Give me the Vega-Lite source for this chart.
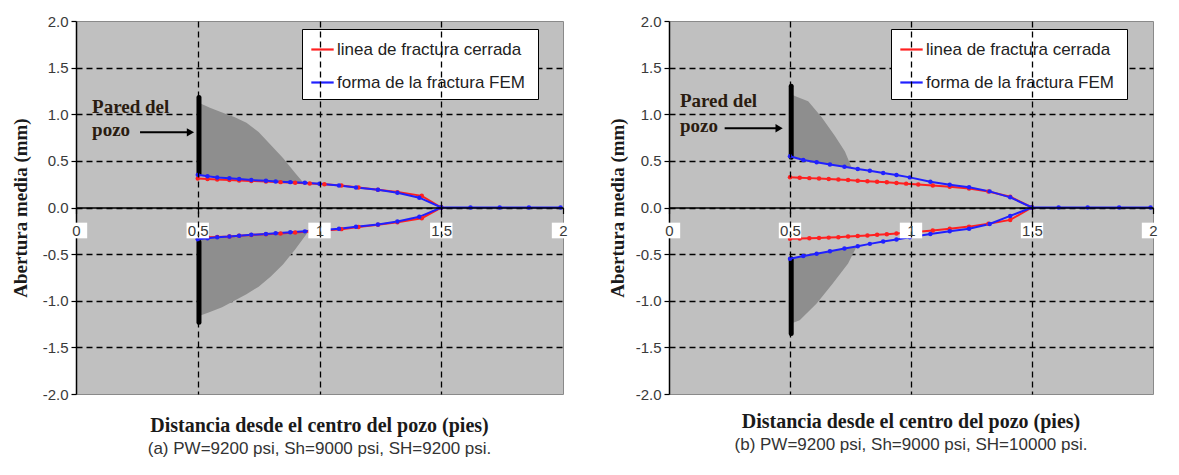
{
  "$schema": "https://vega.github.io/schema/vega-lite/v6.json",
  "background": "white",
  "padding": {"left": 10, "top": 13, "right": 4, "bottom": 4},
  "spacing": 32,
  "resolve": {"scale": {"color": "independent"}, "legend": {"color": "independent"}},
  "config": {
    "view": {"fill": "#c0c0c0", "stroke": "#8a8a8a", "strokeWidth": 1},
    "axis": {
      "labelFont": "Liberation Sans", "labelFontSize": 15, "labelColor": "#3a3a3a",
      "titleFont": "Liberation Serif", "titleFontWeight": "bold", "titleFontSize": 19, "titleColor": "#1a1a1a",
      "domainColor": "black", "domainWidth": 1.5, "tickColor": "black", "tickWidth": 1.2,
      "gridColor": "black", "gridDash": [6, 4], "gridWidth": 1.3
    },
    "title": {
      "font": "Liberation Serif", "fontSize": 20, "fontWeight": "bold", "color": "#1a1a1a",
      "subtitleFont": "Liberation Sans", "subtitleFontSize": 17, "subtitleColor": "#333333", "subtitlePadding": 5
    },
    "legend": {
      "orient": "none", "title": null, "symbolType": "stroke", "symbolSize": 500, "symbolStrokeWidth": 2.2,
      "labelFont": "Liberation Sans", "labelFontSize": 17, "labelColor": "#222222", "labelLimit": 400,
      "fillColor": "white", "strokeColor": "black", "padding": 8, "rowPadding": 12, "labelOffset": 2
    }
  },
  "datasets": {
    "a_curves": [
      {"s": "cerrada", "b": "up", "x": 0.50, "y": 0.31}, {"s": "cerrada", "b": "up", "x": 0.54, "y": 0.305}, {"s": "cerrada", "b": "up", "x": 0.58, "y": 0.30},
      {"s": "cerrada", "b": "up", "x": 0.63, "y": 0.295}, {"s": "cerrada", "b": "up", "x": 0.67, "y": 0.29}, {"s": "cerrada", "b": "up", "x": 0.72, "y": 0.285},
      {"s": "cerrada", "b": "up", "x": 0.78, "y": 0.28}, {"s": "cerrada", "b": "up", "x": 0.84, "y": 0.272}, {"s": "cerrada", "b": "up", "x": 0.90, "y": 0.265},
      {"s": "cerrada", "b": "up", "x": 0.96, "y": 0.258}, {"s": "cerrada", "b": "up", "x": 1.02, "y": 0.25}, {"s": "cerrada", "b": "up", "x": 1.09, "y": 0.235},
      {"s": "cerrada", "b": "up", "x": 1.16, "y": 0.215}, {"s": "cerrada", "b": "up", "x": 1.24, "y": 0.19}, {"s": "cerrada", "b": "up", "x": 1.32, "y": 0.165},
      {"s": "cerrada", "b": "up", "x": 1.42, "y": 0.125}, {"s": "cerrada", "b": "up", "x": 1.50, "y": 0},
      {"s": "cerrada", "b": "lo", "x": 0.50, "y": -0.325}, {"s": "cerrada", "b": "lo", "x": 0.54, "y": -0.32}, {"s": "cerrada", "b": "lo", "x": 0.58, "y": -0.315},
      {"s": "cerrada", "b": "lo", "x": 0.63, "y": -0.31}, {"s": "cerrada", "b": "lo", "x": 0.67, "y": -0.303}, {"s": "cerrada", "b": "lo", "x": 0.72, "y": -0.295},
      {"s": "cerrada", "b": "lo", "x": 0.78, "y": -0.287}, {"s": "cerrada", "b": "lo", "x": 0.84, "y": -0.278}, {"s": "cerrada", "b": "lo", "x": 0.90, "y": -0.268},
      {"s": "cerrada", "b": "lo", "x": 0.96, "y": -0.258}, {"s": "cerrada", "b": "lo", "x": 1.02, "y": -0.247}, {"s": "cerrada", "b": "lo", "x": 1.09, "y": -0.232},
      {"s": "cerrada", "b": "lo", "x": 1.16, "y": -0.21}, {"s": "cerrada", "b": "lo", "x": 1.24, "y": -0.185}, {"s": "cerrada", "b": "lo", "x": 1.32, "y": -0.158},
      {"s": "cerrada", "b": "lo", "x": 1.42, "y": -0.115}, {"s": "cerrada", "b": "lo", "x": 1.50, "y": 0},
      {"s": "fem", "b": "up", "x": 0.50, "y": 0.35}, {"s": "fem", "b": "up", "x": 0.54, "y": 0.335}, {"s": "fem", "b": "up", "x": 0.58, "y": 0.322},
      {"s": "fem", "b": "up", "x": 0.63, "y": 0.313}, {"s": "fem", "b": "up", "x": 0.67, "y": 0.305}, {"s": "fem", "b": "up", "x": 0.72, "y": 0.295},
      {"s": "fem", "b": "up", "x": 0.78, "y": 0.287}, {"s": "fem", "b": "up", "x": 0.82, "y": 0.28}, {"s": "fem", "b": "up", "x": 0.88, "y": 0.272},
      {"s": "fem", "b": "up", "x": 0.94, "y": 0.265}, {"s": "fem", "b": "up", "x": 1.00, "y": 0.254}, {"s": "fem", "b": "up", "x": 1.08, "y": 0.237},
      {"s": "fem", "b": "up", "x": 1.15, "y": 0.215}, {"s": "fem", "b": "up", "x": 1.24, "y": 0.19}, {"s": "fem", "b": "up", "x": 1.32, "y": 0.158},
      {"s": "fem", "b": "up", "x": 1.41, "y": 0.105}, {"s": "fem", "b": "up", "x": 1.50, "y": 0}, {"s": "fem", "b": "up", "x": 1.62, "y": 0},
      {"s": "fem", "b": "up", "x": 1.74, "y": 0}, {"s": "fem", "b": "up", "x": 1.86, "y": 0}, {"s": "fem", "b": "up", "x": 1.99, "y": 0},
      {"s": "fem", "b": "lo", "x": 0.50, "y": -0.34}, {"s": "fem", "b": "lo", "x": 0.54, "y": -0.33}, {"s": "fem", "b": "lo", "x": 0.58, "y": -0.32},
      {"s": "fem", "b": "lo", "x": 0.63, "y": -0.312}, {"s": "fem", "b": "lo", "x": 0.67, "y": -0.303}, {"s": "fem", "b": "lo", "x": 0.72, "y": -0.293},
      {"s": "fem", "b": "lo", "x": 0.78, "y": -0.283}, {"s": "fem", "b": "lo", "x": 0.82, "y": -0.275}, {"s": "fem", "b": "lo", "x": 0.88, "y": -0.266},
      {"s": "fem", "b": "lo", "x": 0.94, "y": -0.256}, {"s": "fem", "b": "lo", "x": 1.00, "y": -0.244}, {"s": "fem", "b": "lo", "x": 1.08, "y": -0.228},
      {"s": "fem", "b": "lo", "x": 1.15, "y": -0.207}, {"s": "fem", "b": "lo", "x": 1.24, "y": -0.182}, {"s": "fem", "b": "lo", "x": 1.32, "y": -0.15},
      {"s": "fem", "b": "lo", "x": 1.41, "y": -0.10}, {"s": "fem", "b": "lo", "x": 1.50, "y": 0}
    ],
    "b_curves": [
      {"s": "cerrada", "b": "up", "x": 0.50, "y": 0.325}, {"s": "cerrada", "b": "up", "x": 0.54, "y": 0.32}, {"s": "cerrada", "b": "up", "x": 0.58, "y": 0.315},
      {"s": "cerrada", "b": "up", "x": 0.62, "y": 0.31}, {"s": "cerrada", "b": "up", "x": 0.66, "y": 0.305}, {"s": "cerrada", "b": "up", "x": 0.70, "y": 0.30},
      {"s": "cerrada", "b": "up", "x": 0.74, "y": 0.294}, {"s": "cerrada", "b": "up", "x": 0.78, "y": 0.288}, {"s": "cerrada", "b": "up", "x": 0.82, "y": 0.282},
      {"s": "cerrada", "b": "up", "x": 0.86, "y": 0.276}, {"s": "cerrada", "b": "up", "x": 0.90, "y": 0.27}, {"s": "cerrada", "b": "up", "x": 0.94, "y": 0.263},
      {"s": "cerrada", "b": "up", "x": 0.98, "y": 0.256}, {"s": "cerrada", "b": "up", "x": 1.03, "y": 0.247}, {"s": "cerrada", "b": "up", "x": 1.09, "y": 0.236},
      {"s": "cerrada", "b": "up", "x": 1.16, "y": 0.222}, {"s": "cerrada", "b": "up", "x": 1.24, "y": 0.203}, {"s": "cerrada", "b": "up", "x": 1.32, "y": 0.172},
      {"s": "cerrada", "b": "up", "x": 1.41, "y": 0.115}, {"s": "cerrada", "b": "up", "x": 1.50, "y": 0},
      {"s": "cerrada", "b": "lo", "x": 0.50, "y": -0.335}, {"s": "cerrada", "b": "lo", "x": 0.54, "y": -0.333}, {"s": "cerrada", "b": "lo", "x": 0.58, "y": -0.33},
      {"s": "cerrada", "b": "lo", "x": 0.62, "y": -0.327}, {"s": "cerrada", "b": "lo", "x": 0.66, "y": -0.323}, {"s": "cerrada", "b": "lo", "x": 0.70, "y": -0.318},
      {"s": "cerrada", "b": "lo", "x": 0.74, "y": -0.312}, {"s": "cerrada", "b": "lo", "x": 0.78, "y": -0.306}, {"s": "cerrada", "b": "lo", "x": 0.82, "y": -0.30},
      {"s": "cerrada", "b": "lo", "x": 0.86, "y": -0.293}, {"s": "cerrada", "b": "lo", "x": 0.90, "y": -0.286}, {"s": "cerrada", "b": "lo", "x": 0.94, "y": -0.278},
      {"s": "cerrada", "b": "lo", "x": 0.98, "y": -0.27}, {"s": "cerrada", "b": "lo", "x": 1.03, "y": -0.26}, {"s": "cerrada", "b": "lo", "x": 1.09, "y": -0.247},
      {"s": "cerrada", "b": "lo", "x": 1.16, "y": -0.228}, {"s": "cerrada", "b": "lo", "x": 1.24, "y": -0.205}, {"s": "cerrada", "b": "lo", "x": 1.32, "y": -0.175},
      {"s": "cerrada", "b": "lo", "x": 1.41, "y": -0.133}, {"s": "cerrada", "b": "lo", "x": 1.50, "y": 0},
      {"s": "fem", "b": "up", "x": 0.50, "y": 0.55}, {"s": "fem", "b": "up", "x": 0.555, "y": 0.51}, {"s": "fem", "b": "up", "x": 0.61, "y": 0.485},
      {"s": "fem", "b": "up", "x": 0.665, "y": 0.46}, {"s": "fem", "b": "up", "x": 0.725, "y": 0.437}, {"s": "fem", "b": "up", "x": 0.78, "y": 0.412},
      {"s": "fem", "b": "up", "x": 0.83, "y": 0.394}, {"s": "fem", "b": "up", "x": 0.885, "y": 0.37}, {"s": "fem", "b": "up", "x": 0.94, "y": 0.348},
      {"s": "fem", "b": "up", "x": 0.995, "y": 0.323}, {"s": "fem", "b": "up", "x": 1.08, "y": 0.276}, {"s": "fem", "b": "up", "x": 1.16, "y": 0.244},
      {"s": "fem", "b": "up", "x": 1.24, "y": 0.216}, {"s": "fem", "b": "up", "x": 1.325, "y": 0.173}, {"s": "fem", "b": "up", "x": 1.41, "y": 0.109},
      {"s": "fem", "b": "up", "x": 1.50, "y": 0}, {"s": "fem", "b": "up", "x": 1.61, "y": 0}, {"s": "fem", "b": "up", "x": 1.73, "y": 0},
      {"s": "fem", "b": "up", "x": 1.86, "y": 0}, {"s": "fem", "b": "up", "x": 1.99, "y": 0},
      {"s": "fem", "b": "lo", "x": 0.50, "y": -0.55}, {"s": "fem", "b": "lo", "x": 0.555, "y": -0.52}, {"s": "fem", "b": "lo", "x": 0.61, "y": -0.495},
      {"s": "fem", "b": "lo", "x": 0.665, "y": -0.47}, {"s": "fem", "b": "lo", "x": 0.725, "y": -0.44}, {"s": "fem", "b": "lo", "x": 0.78, "y": -0.415},
      {"s": "fem", "b": "lo", "x": 0.83, "y": -0.39}, {"s": "fem", "b": "lo", "x": 0.885, "y": -0.365}, {"s": "fem", "b": "lo", "x": 0.94, "y": -0.342},
      {"s": "fem", "b": "lo", "x": 0.995, "y": -0.32}, {"s": "fem", "b": "lo", "x": 1.08, "y": -0.283}, {"s": "fem", "b": "lo", "x": 1.16, "y": -0.255},
      {"s": "fem", "b": "lo", "x": 1.24, "y": -0.228}, {"s": "fem", "b": "lo", "x": 1.325, "y": -0.177}, {"s": "fem", "b": "lo", "x": 1.41, "y": -0.09},
      {"s": "fem", "b": "lo", "x": 1.50, "y": 0}
    ],
    "a_shade": [
      {"g": "up", "x": 0.5, "lo": 0.35, "hi": 1.13}, {"g": "up", "x": 0.55, "lo": 0.333, "hi": 1.07}, {"g": "up", "x": 0.6, "lo": 0.318, "hi": 1.02},
      {"g": "up", "x": 0.65, "lo": 0.309, "hi": 0.97}, {"g": "up", "x": 0.7, "lo": 0.30, "hi": 0.91}, {"g": "up", "x": 0.75, "lo": 0.29, "hi": 0.81},
      {"g": "up", "x": 0.8, "lo": 0.284, "hi": 0.67}, {"g": "up", "x": 0.85, "lo": 0.277, "hi": 0.53}, {"g": "up", "x": 0.9, "lo": 0.27, "hi": 0.37},
      {"g": "up", "x": 0.935, "lo": 0.263, "hi": 0.263},
      {"g": "lo", "x": 0.5, "lo": -0.34, "hi": -1.17}, {"g": "lo", "x": 0.55, "lo": -0.33, "hi": -1.12}, {"g": "lo", "x": 0.6, "lo": -0.318, "hi": -1.07},
      {"g": "lo", "x": 0.65, "lo": -0.308, "hi": -1.0}, {"g": "lo", "x": 0.7, "lo": -0.298, "hi": -0.93}, {"g": "lo", "x": 0.75, "lo": -0.288, "hi": -0.85},
      {"g": "lo", "x": 0.8, "lo": -0.28, "hi": -0.74}, {"g": "lo", "x": 0.85, "lo": -0.273, "hi": -0.61}, {"g": "lo", "x": 0.9, "lo": -0.268, "hi": -0.45},
      {"g": "lo", "x": 0.955, "lo": -0.255, "hi": -0.255}
    ],
    "b_shade": [
      {"g": "up", "x": 0.5, "lo": 0.55, "hi": 1.22}, {"g": "up", "x": 0.525, "lo": 0.535, "hi": 1.19}, {"g": "up", "x": 0.575, "lo": 0.505, "hi": 1.14},
      {"g": "up", "x": 0.63, "lo": 0.48, "hi": 0.97}, {"g": "up", "x": 0.685, "lo": 0.452, "hi": 0.77}, {"g": "up", "x": 0.727, "lo": 0.436, "hi": 0.60},
      {"g": "up", "x": 0.755, "lo": 0.425, "hi": 0.425},
      {"g": "lo", "x": 0.5, "lo": -0.55, "hi": -1.25}, {"g": "lo", "x": 0.54, "lo": -0.525, "hi": -1.21}, {"g": "lo", "x": 0.61, "lo": -0.495, "hi": -1.03},
      {"g": "lo", "x": 0.675, "lo": -0.465, "hi": -0.82}, {"g": "lo", "x": 0.74, "lo": -0.435, "hi": -0.60}, {"g": "lo", "x": 0.775, "lo": -0.42, "hi": -0.42}
    ],
    "a_wall": [{"x": 0.505, "y": 0.36, "y2": 1.18}, {"x": 0.505, "y": -0.37, "y2": -1.23}],
    "b_wall": [{"x": 0.505, "y": 0.54, "y2": 1.30}, {"x": 0.505, "y": -0.55, "y2": -1.35}],
    "a_note": [{"x": 0.066, "y": 1.075, "t": "Pared del"}, {"x": 0.066, "y": 0.83, "t": "pozo"}],
    "b_note": [{"x": 0.045, "y": 1.14, "t": "Pared del"}, {"x": 0.045, "y": 0.875, "t": "pozo"}],
    "a_arrow": [{"x": 0.263, "x2": 0.47, "y": 0.806}],
    "b_arrow": [{"x": 0.23, "x2": 0.455, "y": 0.85}],
    "ticks": [{"x": 0, "y": 0}, {"x": 0.5, "y": 0}, {"x": 1, "y": 0}, {"x": 1.5, "y": 0}, {"x": 2, "y": 0}]
  },
  "hconcat": [
    {
      "width": 487, "height": 373,
      "title": {"text": "Distancia desde el centro del pozo (pies)", "subtitle": "(a) PW=9200 psi, Sh=9000 psi, SH=9200 psi.", "orient": "bottom", "anchor": "middle", "frame": "group", "offset": 14},
      "layer": [
        {
          "data": {"name": "a_shade"},
          "mark": {"type": "area", "color": "#8e8e8e", "opacity": 1, "interpolate": "linear"},
          "encoding": {
            "x": {"field": "x", "type": "quantitative", "scale": {"domain": [0, 2], "nice": false, "zero": false},
                  "axis": {"values": [0, 0.5, 1, 1.5, 2], "offset": -186.5, "title": null, "labelExpr": "'' + datum.value", "tickSize": 6, "labelPadding": 10, "zindex": 1, "labelFlush": false,
                           "gridOpacity": {"condition": {"test": "datum.value == 0 || datum.value == 2", "value": 0}, "value": 1}}},
            "y": {"field": "lo", "type": "quantitative", "scale": {"domain": [-2, 2], "nice": false, "zero": false},
                  "axis": {"values": [-2, -1.5, -1, -0.5, 0, 0.5, 1, 1.5, 2], "title": "Abertura media (mm)", "titlePadding": 12, "tickSize": 5, "labelPadding": 3,
                           "labelExpr": "replace(format(datum.value, '.1f'), '\u2212', '-')",
                           "gridOpacity": {"condition": {"test": "abs(datum.value) == 2", "value": 0}, "value": 1}}},
            "y2": {"field": "hi"},
            "detail": {"field": "g"}
          }
        },
        {
          "data": {"name": "a_wall"},
          "mark": {"type": "rule", "color": "black", "strokeWidth": 5, "strokeCap": "round"},
          "encoding": {"x": {"field": "x", "type": "quantitative"}, "y": {"field": "y", "type": "quantitative"}, "y2": {"field": "y2"}}
        },
        {
          "data": {"name": "a_curves"},
          "mark": {"type": "line", "strokeWidth": 2, "point": {"filled": true, "size": 20}},
          "encoding": {
            "x": {"field": "x", "type": "quantitative"},
            "y": {"field": "y", "type": "quantitative"},
            "color": {"field": "s", "type": "nominal", "scale": {"domain": ["cerrada", "fem"], "range": ["#ff2020", "#2020ff"]},
                      "legend": {"legendX": 226, "legendY": 8, "labelExpr": "datum.value == 'cerrada' ? 'linea de fractura cerrada' : 'forma de la fractura  FEM'"}},
            "detail": {"field": "b"}
          }
        },
        {
          "data": {"name": "a_note"},
          "mark": {"type": "text", "font": "Liberation Serif", "fontWeight": "bold", "fontSize": 19, "color": "#2a1c10", "align": "left", "baseline": "middle"},
          "encoding": {"x": {"field": "x", "type": "quantitative"}, "y": {"field": "y", "type": "quantitative"}, "text": {"field": "t"}}
        },
        {
          "data": {"name": "a_arrow"},
          "mark": {"type": "rule", "color": "black", "strokeWidth": 2},
          "encoding": {"x": {"field": "x", "type": "quantitative"}, "x2": {"field": "x2"}, "y": {"field": "y", "type": "quantitative"}}
        },
        {
          "data": {"name": "a_arrow"},
          "mark": {"type": "point", "shape": "triangle-right", "filled": true, "color": "black", "opacity": 1, "size": 70},
          "encoding": {"x": {"field": "x2", "type": "quantitative"}, "y": {"field": "y", "type": "quantitative"}}
        },
        {
          "data": {"name": "ticks"},
          "mark": {"type": "point", "shape": "M-1,-0.7L1,-0.7L1,0.7L-1,0.7Z", "filled": true, "color": "white", "opacity": 1, "size": 500, "yOffset": 23},
          "encoding": {"x": {"field": "x", "type": "quantitative"}, "y": {"field": "y", "type": "quantitative"}}
        }
      ]
    },
    {
      "width": 484, "height": 373,
      "title": {"text": "Distancia desde el centro del pozo (pies)", "subtitle": "(b) PW=9200 psi, Sh=9000 psi, SH=10000 psi.", "orient": "bottom", "anchor": "middle", "frame": "group", "offset": 10},
      "layer": [
        {
          "data": {"name": "b_shade"},
          "mark": {"type": "area", "color": "#8e8e8e", "opacity": 1, "interpolate": "linear"},
          "encoding": {
            "x": {"field": "x", "type": "quantitative", "scale": {"domain": [0, 2], "nice": false, "zero": false},
                  "axis": {"values": [0, 0.5, 1, 1.5, 2], "offset": -186.5, "title": null, "labelExpr": "'' + datum.value", "tickSize": 6, "labelPadding": 10, "zindex": 1, "labelFlush": false,
                           "gridOpacity": {"condition": {"test": "datum.value == 0 || datum.value == 2", "value": 0}, "value": 1}}},
            "y": {"field": "lo", "type": "quantitative", "scale": {"domain": [-2, 2], "nice": false, "zero": false},
                  "axis": {"values": [-2, -1.5, -1, -0.5, 0, 0.5, 1, 1.5, 2], "title": "Abertura media (mm)", "titlePadding": 8, "tickSize": 5, "labelPadding": 3,
                           "labelExpr": "replace(format(datum.value, '.1f'), '\u2212', '-')",
                           "gridOpacity": {"condition": {"test": "abs(datum.value) == 2", "value": 0}, "value": 1}}},
            "y2": {"field": "hi"},
            "detail": {"field": "g"}
          }
        },
        {
          "data": {"name": "b_wall"},
          "mark": {"type": "rule", "color": "black", "strokeWidth": 5, "strokeCap": "round"},
          "encoding": {"x": {"field": "x", "type": "quantitative"}, "y": {"field": "y", "type": "quantitative"}, "y2": {"field": "y2"}}
        },
        {
          "data": {"name": "b_curves"},
          "mark": {"type": "line", "strokeWidth": 2, "point": {"filled": true, "size": 20}},
          "encoding": {
            "x": {"field": "x", "type": "quantitative"},
            "y": {"field": "y", "type": "quantitative"},
            "color": {"field": "s", "type": "nominal", "scale": {"domain": ["cerrada", "fem"], "range": ["#ff2020", "#2020ff"]},
                      "legend": {"legendX": 222, "legendY": 8, "labelExpr": "datum.value == 'cerrada' ? 'linea de fractura cerrada' : 'forma de la fractura  FEM'"}},
            "detail": {"field": "b"}
          }
        },
        {
          "data": {"name": "b_note"},
          "mark": {"type": "text", "font": "Liberation Serif", "fontWeight": "bold", "fontSize": 19, "color": "#2a1c10", "align": "left", "baseline": "middle"},
          "encoding": {"x": {"field": "x", "type": "quantitative"}, "y": {"field": "y", "type": "quantitative"}, "text": {"field": "t"}}
        },
        {
          "data": {"name": "b_arrow"},
          "mark": {"type": "rule", "color": "black", "strokeWidth": 2},
          "encoding": {"x": {"field": "x", "type": "quantitative"}, "x2": {"field": "x2"}, "y": {"field": "y", "type": "quantitative"}}
        },
        {
          "data": {"name": "b_arrow"},
          "mark": {"type": "point", "shape": "triangle-right", "filled": true, "color": "black", "opacity": 1, "size": 70},
          "encoding": {"x": {"field": "x2", "type": "quantitative"}, "y": {"field": "y", "type": "quantitative"}}
        },
        {
          "data": {"name": "ticks"},
          "mark": {"type": "point", "shape": "M-1,-0.7L1,-0.7L1,0.7L-1,0.7Z", "filled": true, "color": "white", "opacity": 1, "size": 500, "yOffset": 23},
          "encoding": {"x": {"field": "x", "type": "quantitative"}, "y": {"field": "y", "type": "quantitative"}}
        }
      ]
    }
  ]
}
